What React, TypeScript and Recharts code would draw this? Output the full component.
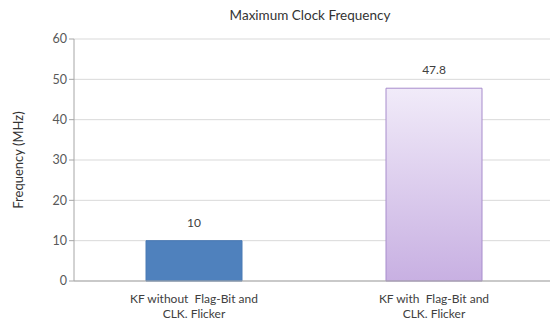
import React from "react";
import { BarChart, Bar, XAxis, YAxis, CartesianGrid, LabelList, Label, Cell } from "recharts";

const categories = ["KF without  Flag-Bit and\nCLK. Flicker", "KF with  Flag-Bit and\nCLK. Flicker"];
const frequencies = [10, 47.8];
const yTicks = [0, 10, 20, 30, 40, 50, 60];

const data = categories.map((name, i) => ({ name, value: frequencies[i] }));

const FONT = "Lato, 'Open Sans', sans-serif";

const CategoryTick = (props: any) => {
  const { x, y, payload } = props;
  const lines = String(payload.value).split("\n");
  return (
    <text x={x} y={y + 14} textAnchor="middle" fill="#404040" fontSize={12} fontFamily={FONT}>
      {lines.map((line, i) => (
        <tspan key={i} x={x} dy={i === 0 ? 0 : 15} style={{ whiteSpace: "pre" }}>
          {line}
        </tspan>
      ))}
    </text>
  );
};

export default function App() {
  return (
    <div style={{ position: "absolute", left: 0, top: 0, width: 550, height: 332, background: "#fff", overflow: "hidden" }}>
      <div
        style={{
          position: "absolute",
          top: 7,
          left: 72,
          width: 476,
          textAlign: "center",
          fontFamily: FONT,
          fontSize: 13.5,
          color: "#333",
        }}
      >
        Maximum Clock Frequency
      </div>
      <BarChart
        width={554}
        height={332}
        data={data}
        margin={{ top: 39, right: 0, left: 0, bottom: 0 }}
        barCategoryGap={0}
      >
        <defs>
          <linearGradient id="lavender" x1="0" y1="0" x2="0" y2="1">
            <stop offset="0%" stopColor="#f1ebf9" />
            <stop offset="100%" stopColor="#c8b0e2" />
          </linearGradient>
        </defs>
        <CartesianGrid vertical={false} stroke="#d9d9d9" />
        <XAxis
          dataKey="name"
          height={51}
          tick={<CategoryTick />}
          tickLine={false}
          axisLine={{ stroke: "#a6a6a6" }}
          interval={0}
        />
        <YAxis
          width={74}
          domain={[0, 60]}
          ticks={yTicks}
          interval={0}
          axisLine={{ stroke: "#a6a6a6" }}
          tickLine={{ stroke: "#a6a6a6" }}
          tickSize={5}
          tick={{ fill: "#595959", fontSize: 12.5, fontFamily: FONT }}
        >
          <Label
            value="Frequency (MHz)"
            angle={-90}
            position="insideLeft"
            offset={18}
            style={{ textAnchor: "middle", fill: "#333", fontSize: 13, fontFamily: FONT }}
          />
        </YAxis>
        <Bar dataKey="value" barSize={96} isAnimationActive={false}>
          <Cell fill="#4f81bd" stroke="#4a7ab4" />
          <Cell fill="url(#lavender)" stroke="#a78ccc" />
          <LabelList
            dataKey="value"
            position="top"
            offset={14}
            style={{ fill: "#404040", fontSize: 12, fontFamily: FONT }}
          />
        </Bar>
      </BarChart>
    </div>
  );
}
